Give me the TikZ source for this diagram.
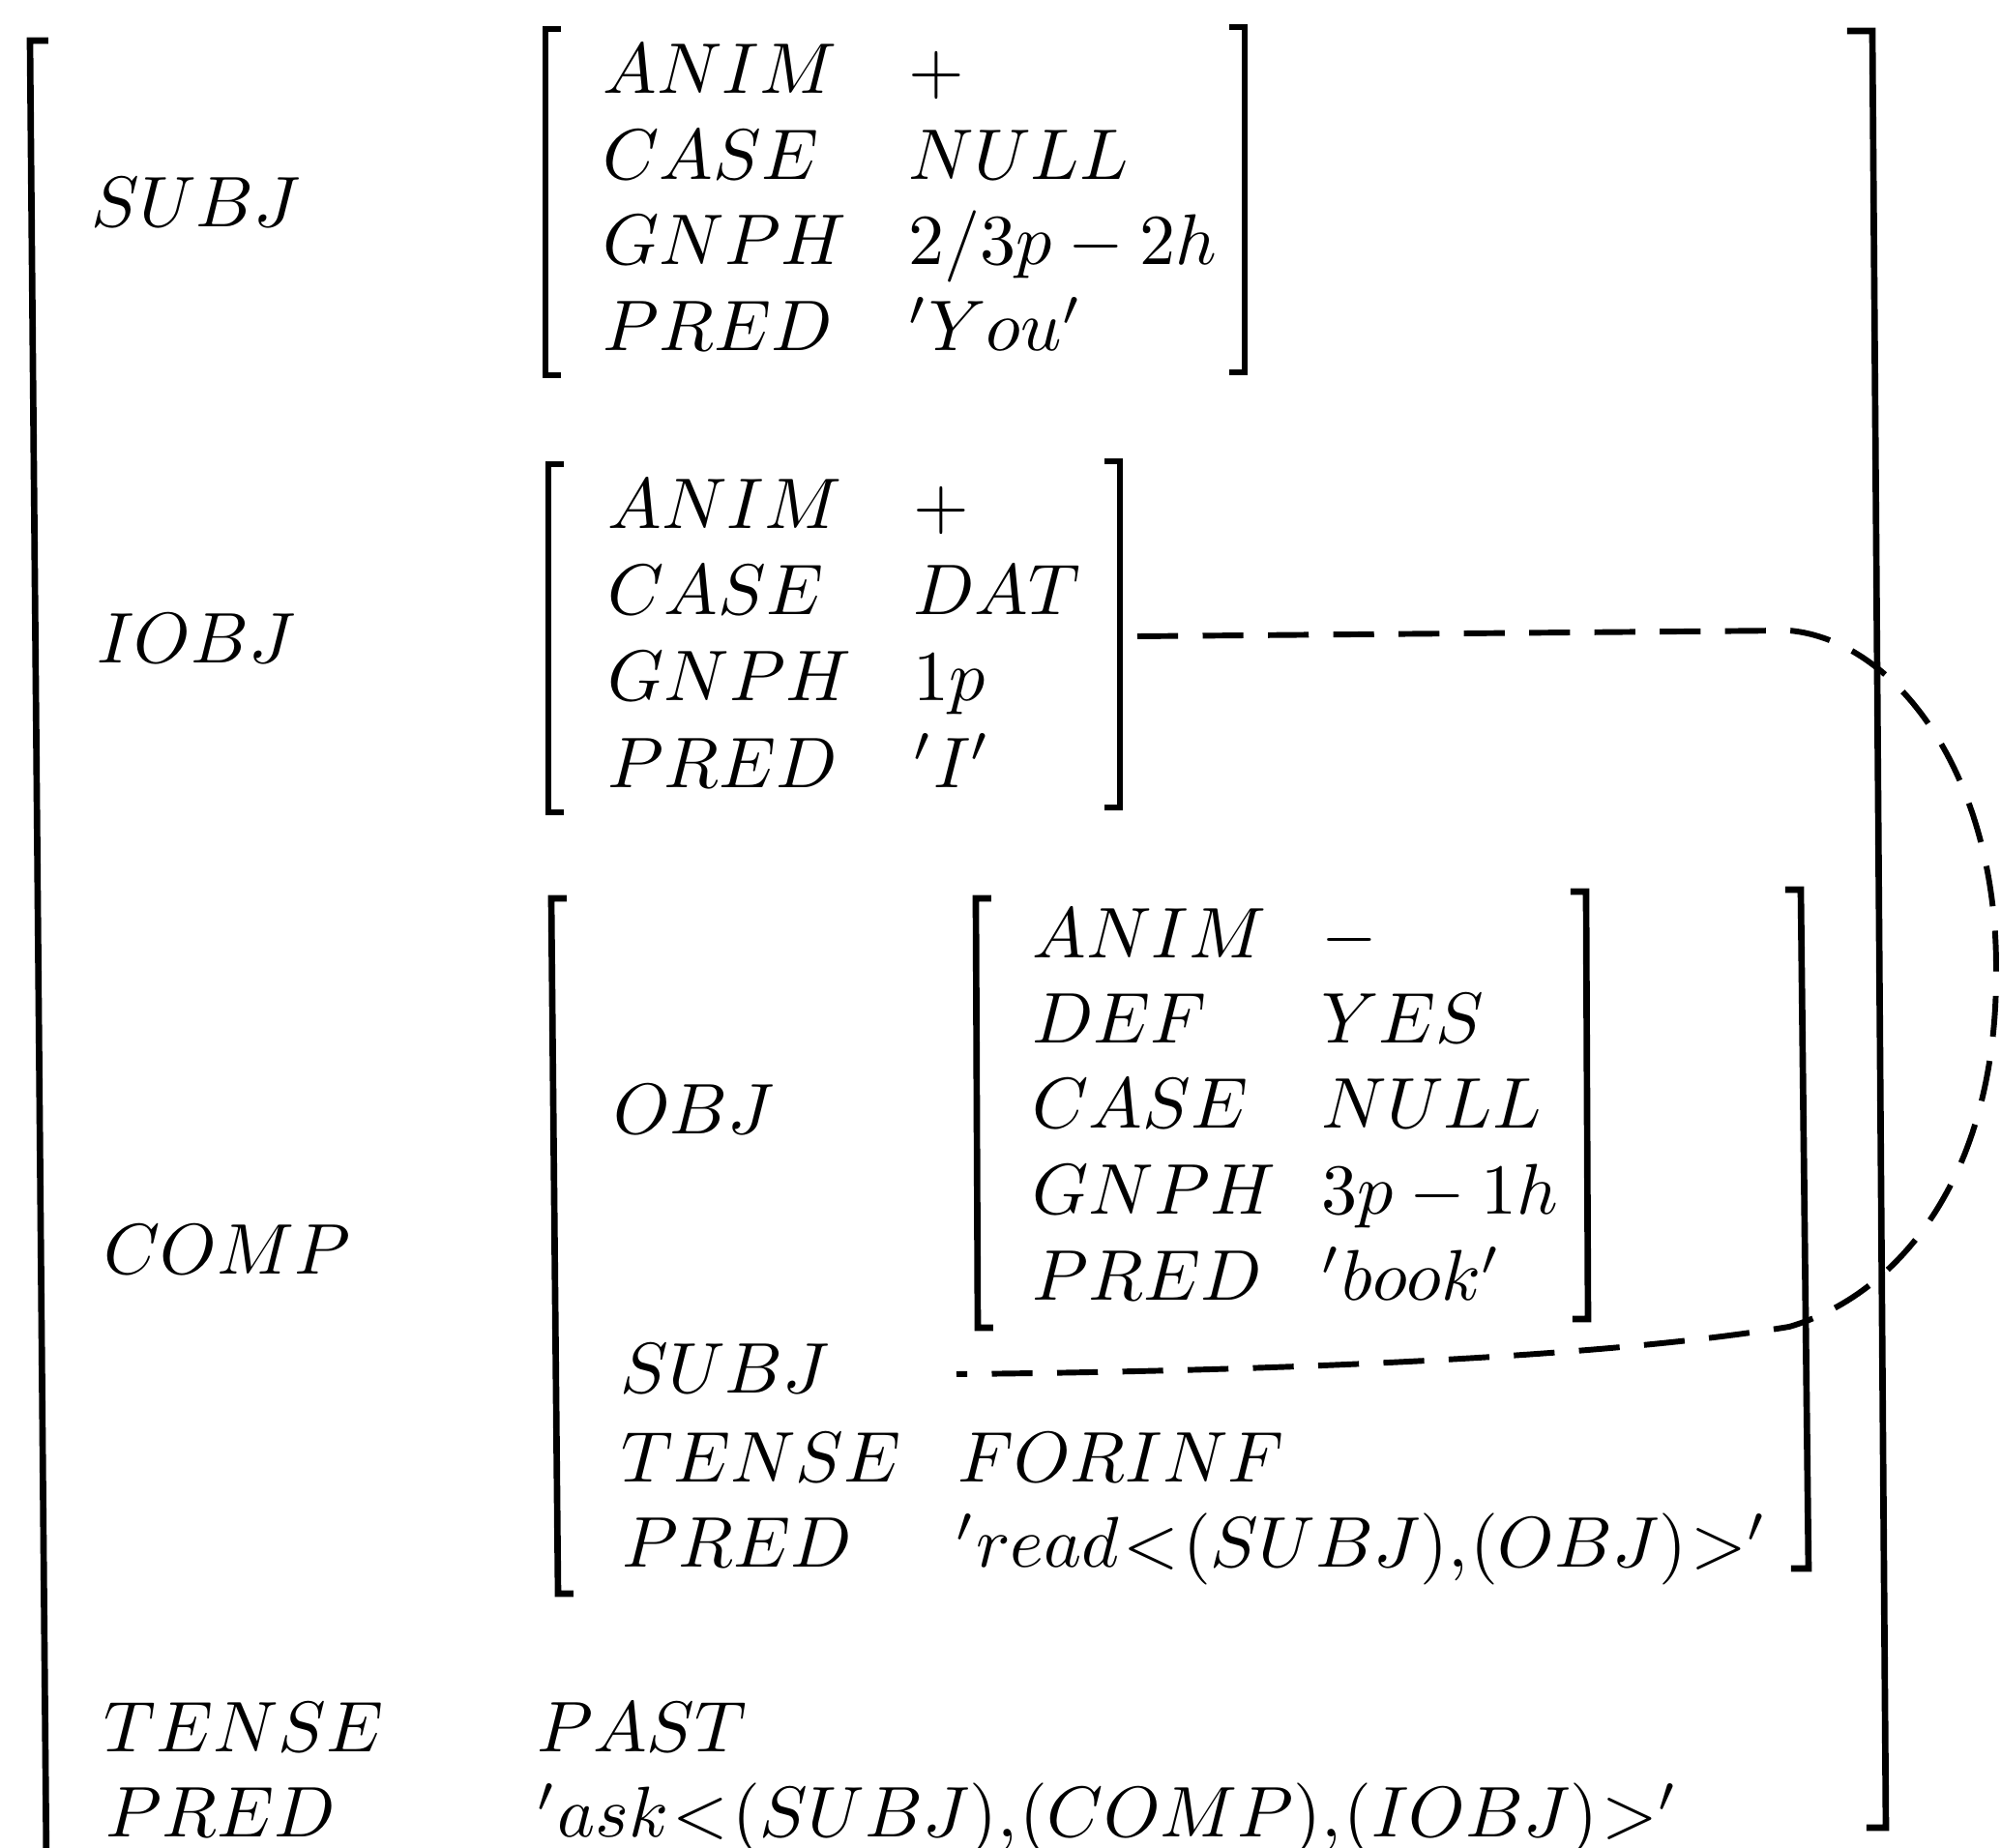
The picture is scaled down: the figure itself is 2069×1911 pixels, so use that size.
\documentclass[tikz,border=0pt]{standalone}
\usepackage{amsmath}
\usepackage{tikz}

\begin{document}
\begin{tikzpicture}[x=0.0474mm, y=-0.0474mm,
  every node/.style={anchor=base west, inner sep=0pt,
    font={\thickmuskip=1mu\thinmuskip=0.5mu}},
  brk/.style={line width=0.9pt, line join=miter},
  link/.style={line width=0.8pt, dash pattern=on 2mm off 1.2mm}]
  \useasboundingbox (0,0) rectangle (2069,1911);

  % outer f-structure
  \draw[brk] (50,42) -- (31,42) -- (48,1930);
  \draw[brk] (1910,32) -- (1936,32) -- (1950,1890) -- (1930,1890);

  % SUBJ
  \node (subj) at (93,234) {$SUBJ$};
  \draw[brk] (580,30) -- (564,30) -- (564,388) -- (580,388);
  \draw[brk] (1271,28) -- (1287,28) -- (1287,385) -- (1271,385);
  \node (s-anim) at (622,96) {$ANIM$};
  \node (s-case) at (622,185) {$CASE$};
  \node (s-gnph) at (622,274) {$GNPH$};
  \node (s-pred) at (622,363) {$PRED$};
  \node (s-anim-v) at (938,96) {$+$};
  \node (s-case-v) at (938,185) {$NULL$};
  \node (s-gnph-v) at (938,274) {$2/3p-2h$};
  \node (s-pred-v) at (938,363) {$'You'$};

  % IOBJ
  \node (iobj) at (99,686) {$IOBJ$};
  \draw[brk] (583,480) -- (567,480) -- (567,840) -- (583,840);
  \draw[brk] (1142,477) -- (1158,477) -- (1158,835) -- (1142,835);
  \node (i-anim) at (627,547) {$ANIM$};
  \node (i-case) at (627,636) {$CASE$};
  \node (i-gnph) at (627,725) {$GNPH$};
  \node (i-pred) at (627,814) {$PRED$};
  \node (i-anim-v) at (943,547) {$+$};
  \node (i-case-v) at (943,636) {$DAT$};
  \node (i-gnph-v) at (943,725) {$1p$};
  \node (i-pred-v) at (943,814) {$'I'$};
  \coordinate (iobj-end) at (1176,658);

  % COMP
  \node (comp) at (106,1318) {$COMP$};
  \draw[brk] (586,929) -- (570,929) -- (577,1648) -- (593,1648);
  \draw[brk] (1846,920) -- (1862,920) -- (1870,1622) -- (1852,1622);

  % OBJ inside COMP
  \node (obj) at (633,1173) {$OBJ$};
  \draw[brk] (1025,929) -- (1009,929) -- (1011,1373) -- (1027,1373);
  \draw[brk] (1624,922) -- (1640,922) -- (1642,1364) -- (1626,1364);
  \node (o-anim) at (1066,991) {$ANIM$};
  \node (o-def) at (1066,1079) {$DEF$};
  \node (o-case) at (1066,1167) {$CASE$};
  \node (o-gnph) at (1066,1256) {$GNPH$};
  \node (o-pred) at (1066,1345) {$PRED$};
  \node (o-anim-v) at (1365,991) {$-$};
  \node (o-def-v) at (1365,1079) {$YES$};
  \node (o-case-v) at (1365,1167) {$NULL$};
  \node (o-gnph-v) at (1365,1256) {$3p-1h$};
  \node (o-pred-v) at (1365,1345) {$'book'$};

  \node (c-subj) at (640,1441) {$SUBJ$};
  \node (c-tense) at (641,1533) {$TENSE$};
  \node (c-pred) at (642,1621) {$PRED$};
  \node (c-tense-v) at (989,1533) {$FORINF$};
  \node (c-pred-v) at (987,1621) {$'read<(SUBJ),(OBJ)>'$};
  \coordinate (c-subj-end) at (989,1421);

  % TENSE and PRED of the whole clause
  \node (tense) at (106,1812) {$TENSE$};
  \node (pred) at (108,1900) {$PRED$};
  \node (tense-v) at (554,1812) {$PAST$};
  \node (pred-v) at (554,1900) {$'ask<(SUBJ),(COMP),(IOBJ)>'$};

  % shared SUBJ of COMP = IOBJ
  \draw[link] (iobj-end) -- (1850,652)
    .. controls (1960,662) and (2064,800) .. (2064,1000)
    .. controls (2066,1220) and (1960,1340) .. (1850,1372)
    .. controls (1650,1405) and (1300,1418) .. (c-subj-end);
\end{tikzpicture}
\end{document}
